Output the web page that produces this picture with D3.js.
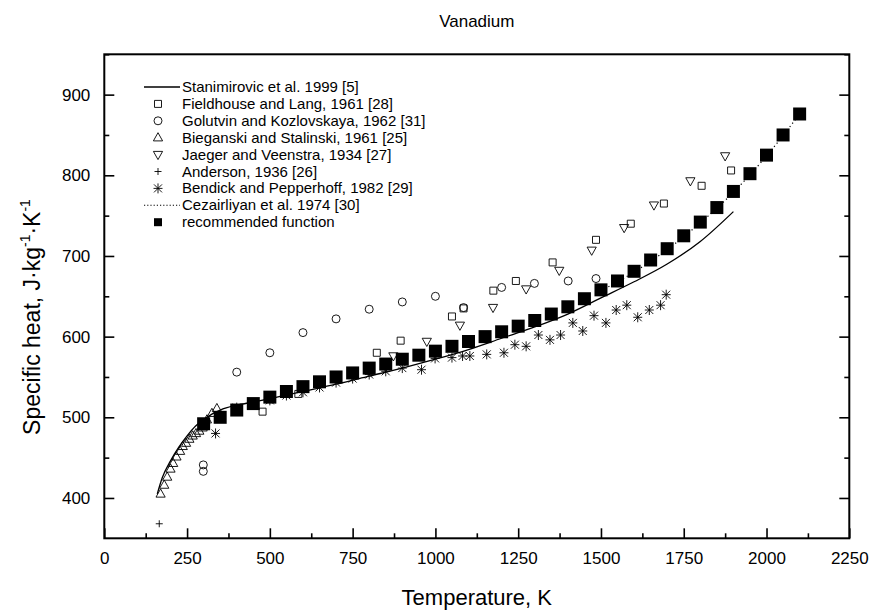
<!DOCTYPE html>
<html>
<head>
<meta charset="utf-8">
<script src="https://cdn.jsdelivr.net/npm/d3@7"></script>
<style>
  body { margin: 0; background: #fff; }
  svg { font-family: "Liberation Sans", Arial, sans-serif; }
</style>
</head>
<body>
<svg width="873" height="615"></svg>
<script>
// recommended function (filled squares)
const recT = [300, 350, 400, 450, 500, 550, 600, 650, 700, 750, 800, 850, 900, 950, 1000, 1050, 1100, 1150, 1200, 1250,
    1300, 1350, 1400, 1450, 1500, 1550, 1600, 1650, 1700, 1750, 1800, 1850, 1900, 1950, 2000, 2050, 2100];
const recCp = [492, 500, 509, 517, 525, 532, 538, 544, 550, 555, 561, 566, 572, 577, 582, 588, 594, 600, 606, 613,
    620, 628, 637, 647, 658, 669, 681, 695, 709, 725, 742, 760, 780, 802, 825, 850, 876];

// Stanimirovic et al. 1999 (solid line)
const stT = [160, 175, 200, 225, 250, 275, 300, 325, 350, 400, 450, 500, 600, 700, 800, 900, 1000, 1100, 1200, 1300,
    1400, 1500, 1600, 1700, 1800, 1900];
const stCp = [405, 425, 446, 463, 477, 489, 497, 504, 509, 515, 519, 523, 532, 541, 551, 561, 572, 584, 598, 612,
    628, 648, 668, 690, 718, 755];

// Cezairliyan et al. 1974 (dotted line)
const czT = [1500, 1600, 1700, 1800, 1900, 2000, 2100];
const czCp = [657, 680, 708, 741, 779, 824, 876];

// Fieldhouse and Lang 1961
const fhT = [478, 586, 823, 895, 1050, 1085, 1175, 1243, 1354, 1485, 1590, 1690, 1804, 1893];
const fhCp = [507, 529, 580, 595, 625, 635, 657, 669, 692, 720, 740, 765, 787, 806];

// Golutvin and Kozlovskaya 1962
const gkT = [299, 299, 400, 500, 600, 700, 800, 900, 1000, 1085, 1200, 1299, 1401, 1485];
const gkCp = [433, 441, 556, 580, 605, 622, 634, 643, 650, 636, 661, 666, 669, 672];

// Bieganski and Stalinski 1961
const bsT = [170, 181, 190, 200, 208, 218, 229, 237, 247, 257, 267, 277, 287, 297, 310, 325, 340];
const bsCp = [405, 416, 426, 436, 443, 451, 458, 464, 468, 473, 477, 480, 483, 487, 497, 505, 511];

// Jaeger and Veenstra 1934
const jvT = [873, 974, 1074, 1174, 1274, 1374, 1472, 1570, 1660, 1770, 1875];
const jvCp = [576, 594, 614, 636, 659, 682, 707, 735, 763, 793, 824];

// Anderson 1936
const anT = [166];
const anCp = [368];

// Bendick and Pepperhoff 1982
const bpT = [336, 400, 450, 500, 550, 600, 650, 700, 750, 800, 850, 900, 958, 999, 1050, 1082, 1104, 1155, 1207, 1240,
    1274, 1311, 1346, 1378, 1415, 1445, 1479, 1515, 1546, 1578, 1611, 1646, 1680, 1697];
const bpCp = [480, 512, 517, 521, 527, 531, 537, 543, 548, 553, 557, 561, 559, 573, 574, 576, 576, 578, 580, 590,
    588, 602, 596, 602, 617, 607, 626, 617, 633, 639, 624, 633, 639, 652];

const xTicks = [0, 250, 500, 750, 1000, 1250, 1500, 1750, 2000, 2250];
const yTicks = [400, 500, 600, 700, 800, 900];

const legendLabels = ["Stanimirovic et al. 1999 [5]", "Fieldhouse and Lang, 1961 [28]", "Golutvin and Kozlovskaya, 1962 [31]",
    "Bieganski and Stalinski, 1961 [25]", "Jaeger and Veenstra, 1934 [27]", "Anderson, 1936 [26]",
    "Bendick and Pepperhoff, 1982 [29]", "Cezairliyan et al. 1974 [30]", "recommended function"];
const legendKinds = ["line", "square", "circle", "tri", "itri", "plus", "star", "dots", "fill"];

const svg = d3.select("svg");
const mLeft = 104.3, mRight = 849.3, mTop = 54.3, mBottom = 538.3;

const x = d3.scaleLinear().domain([0, 2250]).range([mLeft, mRight]);
const y = d3.scaleLinear().domain([350, 950]).range([mBottom, mTop]);

const zip = (a, b) => a.map((v, i) => [v, b[i]]);

// symbol path builders, centred on 0,0
function symPath(kind) {
    switch (kind) {
        case "square": return "M-3.5,-3.5H3.5V3.5H-3.5Z";
        case "fill": return "M-6.5,-6.5H6.5V6.5H-6.5Z";
        case "circle": return "M4,0A4,4 0 1,1 -4,0A4,4 0 1,1 4,0Z";
        case "tri": return "M0,-5L4.6,3.2H-4.6Z";
        case "itri": return "M0,5L4.6,-3.2H-4.6Z";
        case "plus": return "M-3.5,0H3.5M0,-3.5V3.5";
        case "star": return "M-4,-4L4,4M-4,4L4,-4M0,-5V5M-4.5,0H4.5";
    }
}

const g = svg.append("g");

// lines
const line = d3.line().x(d => x(d[0])).y(d => y(d[1])).curve(d3.curveMonotoneX);

g.append("path")
    .datum(zip(stT, stCp))
    .attr("d", line)
    .attr("fill", "none")
    .attr("stroke", "#000")
    .attr("stroke-width", 1.3);

g.append("path")
    .datum(zip(czT, czCp))
    .attr("d", line)
    .attr("fill", "none")
    .attr("stroke", "#000")
    .attr("stroke-width", 1.2)
    .attr("stroke-dasharray", "1.2,3");

function scatter(tArr, cArr, kind) {
    g.selectAll(".s-" + kind)
        .data(zip(tArr, cArr))
        .enter().append("path")
        .attr("class", "s-" + kind)
        .attr("transform", d => `translate(${x(d[0])},${y(d[1])})`)
        .attr("d", symPath(kind))
        .attr("fill", kind === "fill" ? "#000" : "none")
        .attr("stroke", "#000")
        .attr("stroke-width", kind === "fill" ? 0 : 0.9);
}

scatter(bsT, bsCp, "tri");
scatter(bpT, bpCp, "star");
scatter(fhT, fhCp, "square");
scatter(gkT, gkCp, "circle");
scatter(jvT, jvCp, "itri");
scatter(anT, anCp, "plus");
scatter(recT, recCp, "fill");

// axes: ticks pointing inward
const xAxis = d3.axisBottom(x).tickValues(xTicks).tickSize(-10).tickPadding(14).tickFormat(d3.format("d"));
const xMinor = d3.axisBottom(x).tickValues(xTicks.slice(0, -1).map(v => v + 125)).tickSize(-5).tickFormat("");
const yAxis = d3.axisLeft(y).tickValues(yTicks).tickSize(-10).tickPadding(14).tickFormat(d3.format("d"));
const yMinor = d3.axisLeft(y).tickValues(yTicks.map(v => v + 50)).tickSize(-5).tickFormat("");
const yRight = d3.axisRight(y).tickValues(yTicks).tickSize(-10).tickFormat("");
const yRightMinor = d3.axisRight(y).tickValues(yTicks.map(v => v + 50)).tickSize(-5).tickFormat("");

function styleAxis(sel) {
    sel.select(".domain").remove();
    sel.selectAll("line").attr("stroke", "#000").attr("stroke-width", 1.6);
    sel.selectAll("text").attr("fill", "#000").style("font-size", "17px");
}

svg.append("g").attr("transform", `translate(0,${mBottom})`).call(xAxis).call(styleAxis);
svg.append("g").attr("transform", `translate(0,${mBottom})`).call(xMinor).call(styleAxis);
svg.append("g").attr("transform", `translate(${mLeft},0)`).call(yAxis).call(styleAxis);
svg.append("g").attr("transform", `translate(${mLeft},0)`).call(yMinor).call(styleAxis);
svg.append("g").attr("transform", `translate(${mRight},0)`).call(yRight).call(styleAxis);
svg.append("g").attr("transform", `translate(${mRight},0)`).call(yRightMinor).call(styleAxis);

// frame
svg.append("rect")
    .attr("x", mLeft).attr("y", mTop)
    .attr("width", mRight - mLeft).attr("height", mBottom - mTop)
    .attr("fill", "none").attr("stroke", "#000").attr("stroke-width", 2);

// titles
svg.append("text")
    .attr("x", (mLeft + mRight) / 2).attr("y", 27)
    .attr("text-anchor", "middle")
    .style("font-size", "17px")
    .text("Vanadium");

svg.append("text")
    .attr("x", (mLeft + mRight) / 2).attr("y", 605)
    .attr("text-anchor", "middle")
    .style("font-size", "22px")
    .text("Temperature, K");

const yl = svg.append("text")
    .attr("transform", "translate(40,317) rotate(-90)")
    .attr("text-anchor", "middle")
    .style("font-size", "23px");
yl.append("tspan").text("Specific heat, J\u00b7kg");
yl.append("tspan").attr("dy", -10).style("font-size", "14px").text("-1");
yl.append("tspan").attr("dy", 10).text("\u00b7K");
yl.append("tspan").attr("dy", -10).style("font-size", "14px").text("-1");

// legend
const leg = svg.append("g");
const legY0 = 87, legStep = 16.9, symX = 158, textX = 182;

legendLabels.forEach((label, i) => {
    const ly = legY0 + i * legStep;
    const kind = legendKinds[i];
    if (kind === "line" || kind === "dots") {
        leg.append("line")
            .attr("x1", 144).attr("x2", 180).attr("y1", ly).attr("y2", ly)
            .attr("stroke", "#000")
            .attr("stroke-width", kind === "line" ? 1.3 : 1.1)
            .attr("stroke-dasharray", kind === "dots" ? "1.2,2" : null);
    } else {
        leg.append("path")
            .attr("transform", `translate(${symX},${ly})`)
            .attr("d", kind === "fill" ? "M-4,-4H4V4H-4Z" : symPath(kind))
            .attr("fill", kind === "fill" ? "#000" : "none")
            .attr("stroke", "#000")
            .attr("stroke-width", kind === "fill" ? 0 : 0.9);
    }
    leg.append("text")
        .attr("x", textX).attr("y", ly + 5)
        .style("font-size", "15px")
        .text(label);
});
</script>
</body>
</html>
